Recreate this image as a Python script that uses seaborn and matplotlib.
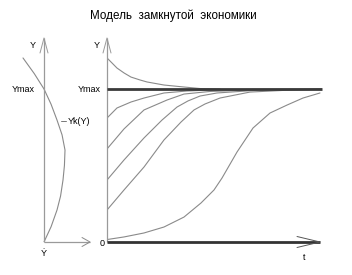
import numpy as np
import pandas as pd
import matplotlib
matplotlib.use("Agg")
import matplotlib.pyplot as plt
import seaborn as sns

# ---------------- data ----------------
TITLE = "Модель  замкнутой  экономики"
YMAX = 1.0

# right panel: Y(t) trajectories
t_top = [0, 0.233, 0.465, 0.791, 1.116, 1.535, 1.860, 2.651, 3.581, 4.326, 5.256]
y_top = [1.203, 1.170, 1.137, 1.105, 1.078, 1.059, 1.046, 1.026, 1.013, 1.003, 1.0]
t_a = [0, 0.465, 1.116, 1.721, 2.651, 3.721, 4.791, 6.651, 10]
y_a = [0.810, 0.876, 0.915, 0.941, 0.974, 0.987, 0.993, 0.997, 1.0]
t_b = [0, 0.791, 1.721, 2.791, 3.581, 4.791, 6.651, 10]
y_b = [0.608, 0.739, 0.863, 0.928, 0.967, 0.984, 0.993, 0.998]
t_c = [0, 0.791, 1.721, 2.558, 3.256, 3.767, 4.326, 5.116, 7.116, 10]
y_c = [0.405, 0.536, 0.680, 0.797, 0.882, 0.922, 0.954, 0.974, 0.993, 0.998]
t_d = [0, 0.791, 1.721, 2.651, 3.442, 4.047, 4.558, 5.256, 6.651, 8.512, 10]
y_d = [0.209, 0.340, 0.490, 0.667, 0.784, 0.863, 0.902, 0.941, 0.980, 0.993, 0.998]
t_e = [0, 0.791, 1.721, 2.651, 3.581, 4.372, 4.977, 5.349, 6.047, 6.791, 7.581, 8.372, 9.116, 9.907]
y_e = [0.016, 0.033, 0.059, 0.098, 0.163, 0.255, 0.340, 0.418, 0.588, 0.745, 0.843, 0.895, 0.941, 0.974]

# left panel: Ydot = Yk(Y)
ydot_k = [-0.977, -0.45, 0, 0.33, 0.605, 0.84, 0.977, 0.95, 0.884, 0.77, 0.605, 0.33, 0]
y_k = [1.203, 1.10, 1.0, 0.90, 0.797, 0.70, 0.601, 0.50, 0.405, 0.30, 0.209, 0.10, 0.0]

# ---------------- figure ----------------
sns.set_style("white")
plt.rcParams["font.family"] = ["Liberation Sans", "DejaVu Sans"]

W, H = 352, 275
fig = plt.figure(figsize=(W / 100, H / 100), dpi=100)
fig.patch.set_facecolor("white")

px_per_t = 21.5
px_per_y = 153.0
y_top_lim = (242 - 38) / px_per_y

axR = fig.add_axes([107 / W, (H - 242) / H, 215 / W, (242 - 38) / H])
axR.set_xlim(0, 215 / px_per_t)
axR.set_ylim(0, y_top_lim)

axL = fig.add_axes([10 / W, (H - 242) / H, 85 / W, (242 - 38) / H])
axL.set_xlim((10 - 44) / px_per_t, (95 - 44) / px_per_t)
axL.set_ylim(0, y_top_lim)

for ax in (axL, axR):
    ax.axis("off")

curve_col = "#8a8a8a"
frames = []
for name, tt, yy in [("top", t_top, y_top), ("a", t_a, y_a), ("b", t_b, y_b),
                     ("c", t_c, y_c), ("d", t_d, y_d), ("e", t_e, y_e)]:
    frames.append(pd.DataFrame({"t": tt, "Y": yy, "curve": name}))
dfR = pd.concat(frames, ignore_index=True)
sns.lineplot(data=dfR, x="t", y="Y", units="curve", estimator=None, sort=False,
             color=curve_col, lw=0.8, ax=axR, legend=False)

dfL = pd.DataFrame({"Ydot": ydot_k, "Y": y_k})
sns.lineplot(data=dfL, x="Ydot", y="Y", estimator=None, sort=False,
             color=curve_col, lw=0.8, ax=axL, legend=False)

# ---------------- axes drawn as arrows ----------------
def arrow_v(ax, x0, sx, sy, col, lw):
    ax.plot([x0, x0], [0, y_top_lim], color=col, lw=lw, clip_on=False, solid_capstyle="butt")
    tip = y_top_lim
    ax.plot([x0 - 4 / sx, x0, x0 + 4 / sx], [tip - 15 / sy, tip, tip - 15 / sy],
            color=col, lw=0.7, clip_on=False)

def arrow_h(ax, x0, x1, sx, sy, col, lw, hl, hw, tipcol):
    ax.plot([x0, x1], [0, 0], color=col, lw=lw, clip_on=False, solid_capstyle="butt")
    ax.plot([x1 - hl / sx, x1, x1 - hl / sx], [hw / sy, 0, -hw / sy],
            color=tipcol, lw=0.7, clip_on=False)

# left
arrow_v(axL, 0, px_per_t, px_per_y, "#9a9a9a", 0.9)
arrow_h(axL, 0, (90 - 44) / px_per_t, px_per_t, px_per_y, "#9a9a9a", 0.9, 8, 4.5, "#8a8a8a")
# right
arrow_v(axR, 0, px_per_t, px_per_y, "#9a9a9a", 0.9)
arrow_h(axR, 0, (320 - 107) / px_per_t, px_per_t, px_per_y, "#333333", 2.0, 23, 5.5, "#555555")
axR.plot([0, 215 / px_per_t], [YMAX, YMAX], color="#3a3a3a", lw=2.0, solid_capstyle="butt", clip_on=False)

# ---------------- text ----------------
fs = 6.5
tc = "#000000"
fig.text(173 / W, 1 - 16 / H, TITLE, ha="center", va="center", fontsize=8.4, color=tc)

axL.text(-11 / px_per_t, (242 - 45) / px_per_y, "Y", ha="center", va="center", fontsize=fs, color=tc)
axL.text(-9 / px_per_t, YMAX, "Ymax", ha="right", va="center", fontsize=fs, color=tc)
axL.text(0, -12 / px_per_y, "Ẏ", ha="center", va="center", fontsize=fs, color=tc, clip_on=False)
ly = (242 - 121) / px_per_y
axL.plot([17 / px_per_t, 22 / px_per_t], [ly, ly], color="#777777", lw=0.7)
axL.text(24 / px_per_t, ly, "Yk(Y)", ha="left", va="center", fontsize=fs, color=tc)

axR.text(-10 / px_per_t, (242 - 45) / px_per_y, "Y", ha="center", va="center", fontsize=fs, color=tc)
axR.text(-6 / px_per_t, YMAX, "Ymax", ha="right", va="center", fontsize=fs, color=tc)
axR.text(-5 / px_per_t, -1 / px_per_y, "0", ha="center", va="center", fontsize=fs, color=tc)
axR.text((304 - 107) / px_per_t, -15 / px_per_y, "t", ha="center", va="center", fontsize=fs, color=tc)

fig.savefig("out.png", dpi=100, facecolor="white")
